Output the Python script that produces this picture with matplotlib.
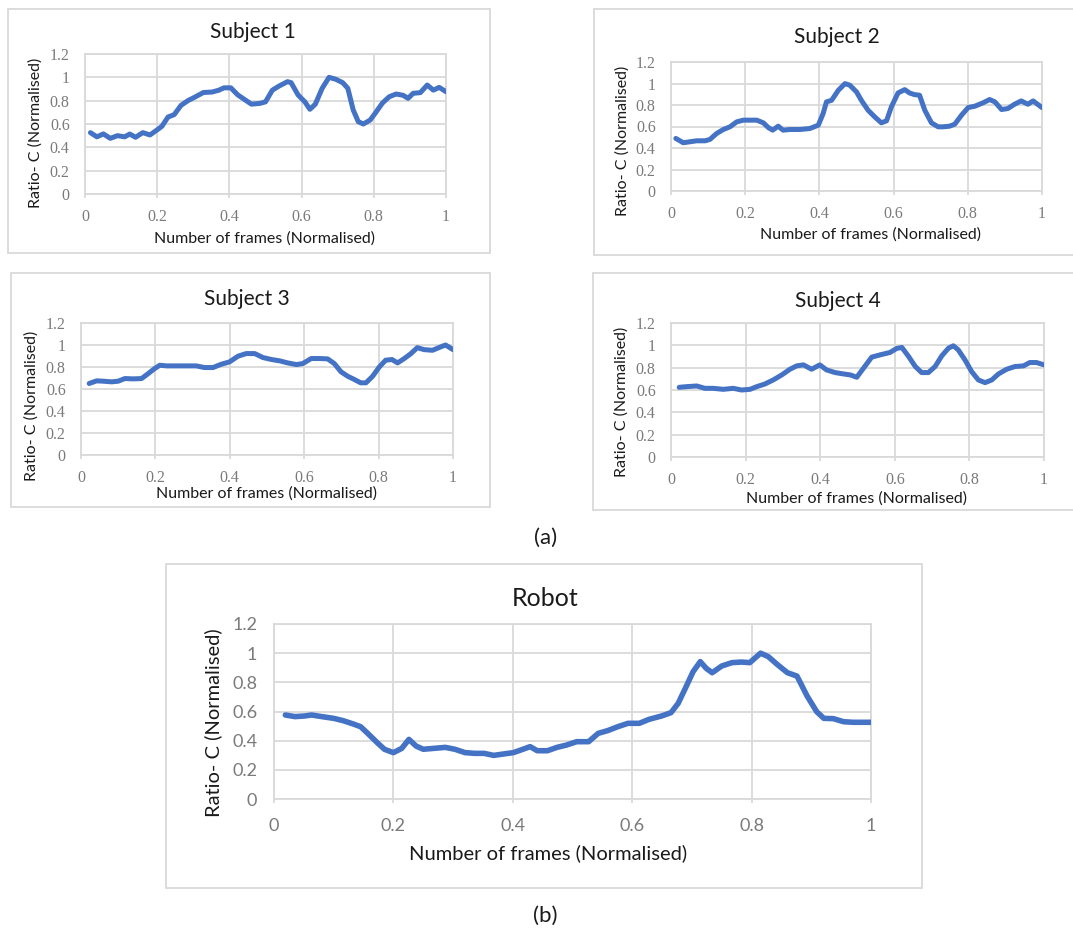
import matplotlib.pyplot as plt
from matplotlib.patches import Rectangle

# ---- data ----
s1_x = [0.015, 0.033, 0.051, 0.07, 0.09, 0.11, 0.124, 0.14, 0.16, 0.18, 0.2, 0.213, 0.23, 0.247,
        0.266, 0.285, 0.304, 0.328, 0.352, 0.371, 0.385, 0.404, 0.423, 0.442, 0.461, 0.485, 0.5,
        0.519, 0.538, 0.561, 0.571, 0.59, 0.609, 0.623, 0.638, 0.657, 0.676, 0.695, 0.714, 0.728,
        0.743, 0.757, 0.771, 0.79, 0.805, 0.824, 0.843, 0.862, 0.881, 0.895, 0.909, 0.929, 0.948,
        0.965, 0.981, 1.0]
s1_y = [0.526, 0.49, 0.515, 0.477, 0.50, 0.49, 0.514, 0.486, 0.526, 0.506, 0.55, 0.58, 0.66, 0.68,
        0.76, 0.80, 0.83, 0.87, 0.874, 0.89, 0.91, 0.91, 0.85, 0.81, 0.77, 0.777, 0.79,
        0.89, 0.926, 0.963, 0.954, 0.85, 0.79, 0.726, 0.77, 0.906, 1.0, 0.983, 0.954, 0.906,
        0.72, 0.62, 0.60, 0.634, 0.697, 0.78, 0.834, 0.857, 0.846, 0.82, 0.863, 0.869, 0.934,
        0.89, 0.914, 0.877]

s2_x = [0.013, 0.033, 0.051, 0.069, 0.092, 0.105, 0.123, 0.141, 0.159, 0.177, 0.195, 0.213, 0.231,
        0.249, 0.262, 0.274, 0.289, 0.302, 0.32, 0.347, 0.374, 0.397, 0.41, 0.419, 0.433, 0.451,
        0.469, 0.482, 0.5, 0.513, 0.531, 0.549, 0.567, 0.581, 0.594, 0.612, 0.63, 0.643, 0.656,
        0.67, 0.684, 0.702, 0.72, 0.733, 0.751, 0.765, 0.783, 0.801, 0.819, 0.841, 0.859, 0.873,
        0.891, 0.908, 0.926, 0.944, 0.962, 0.976, 1.0]
s2_y = [0.489, 0.449, 0.458, 0.467, 0.467, 0.48, 0.535, 0.572, 0.597, 0.643, 0.659, 0.659, 0.659,
        0.634, 0.591, 0.566, 0.603, 0.566, 0.572, 0.572, 0.581, 0.612, 0.72, 0.829, 0.844, 0.937,
        0.999, 0.984, 0.922, 0.844, 0.752, 0.69, 0.634, 0.653, 0.783, 0.912, 0.943, 0.912, 0.897,
        0.891, 0.752, 0.634, 0.597, 0.597, 0.603, 0.622, 0.705, 0.776, 0.789, 0.82, 0.851, 0.829,
        0.758, 0.767, 0.807, 0.838, 0.807, 0.838, 0.776]

s3_x = [0.022, 0.042, 0.06, 0.082, 0.1, 0.118, 0.14, 0.163, 0.181, 0.198, 0.212, 0.23, 0.256, 0.283,
        0.31, 0.332, 0.355, 0.377, 0.399, 0.422, 0.444, 0.467, 0.489, 0.512, 0.534, 0.556, 0.579,
        0.596, 0.619, 0.641, 0.663, 0.681, 0.699, 0.717, 0.735, 0.752, 0.766, 0.784, 0.802, 0.819,
        0.836, 0.851, 0.869, 0.887, 0.904, 0.922, 0.945, 0.962, 0.98, 1.0]
s3_y = [0.65, 0.674, 0.671, 0.665, 0.671, 0.695, 0.692, 0.695, 0.741, 0.786, 0.816, 0.81, 0.81, 0.81,
        0.81, 0.795, 0.795, 0.825, 0.846, 0.898, 0.922, 0.922, 0.886, 0.868, 0.856, 0.837, 0.822,
        0.831, 0.877, 0.877, 0.874, 0.831, 0.756, 0.716, 0.686, 0.656, 0.656, 0.716, 0.801, 0.862,
        0.868, 0.837, 0.877, 0.922, 0.976, 0.958, 0.952, 0.976, 1.0, 0.958]

s4_x = [0.022, 0.042, 0.069, 0.091, 0.113, 0.14, 0.167, 0.189, 0.212, 0.23, 0.252, 0.274, 0.297,
        0.319, 0.337, 0.355, 0.377, 0.399, 0.417, 0.44, 0.462, 0.481, 0.498, 0.516, 0.538, 0.561,
        0.587, 0.605, 0.619, 0.637, 0.655, 0.672, 0.69, 0.708, 0.726, 0.744, 0.757, 0.77, 0.788,
        0.806, 0.824, 0.842, 0.86, 0.878, 0.9, 0.922, 0.945, 0.962, 0.98, 1.0]
s4_y = [0.624, 0.63, 0.636, 0.615, 0.615, 0.606, 0.615, 0.6, 0.606, 0.63, 0.654, 0.69, 0.735,
        0.786, 0.816, 0.825, 0.786, 0.825, 0.78, 0.756, 0.744, 0.735, 0.714, 0.795, 0.894, 0.915,
        0.936, 0.972, 0.981, 0.9, 0.81, 0.756, 0.756, 0.81, 0.906, 0.975, 0.996, 0.96, 0.87,
        0.765, 0.69, 0.666, 0.69, 0.744, 0.786, 0.81, 0.816, 0.846, 0.846, 0.825]

robot_x = [0.019, 0.035, 0.051, 0.063, 0.08, 0.1, 0.116, 0.133, 0.145, 0.157, 0.173, 0.185, 0.2,
           0.214, 0.226, 0.238, 0.25, 0.267, 0.287, 0.303, 0.32, 0.336, 0.352, 0.368, 0.385, 0.401,
           0.417, 0.429, 0.441, 0.458, 0.474, 0.49, 0.507, 0.527, 0.543, 0.559, 0.576, 0.593, 0.612,
           0.628, 0.649, 0.665, 0.677, 0.689, 0.702, 0.714, 0.724, 0.734, 0.75, 0.767, 0.783, 0.797,
           0.815, 0.828, 0.844, 0.86, 0.876, 0.893, 0.909, 0.921, 0.937, 0.954, 0.97, 1.0]
robot_y = [0.576, 0.565, 0.569, 0.576, 0.565, 0.553, 0.537, 0.514, 0.496, 0.45, 0.386, 0.341, 0.318,
           0.347, 0.409, 0.363, 0.341, 0.347, 0.354, 0.341, 0.318, 0.313, 0.313, 0.299, 0.309, 0.318,
           0.341, 0.359, 0.331, 0.331, 0.354, 0.37, 0.393, 0.393, 0.45, 0.469, 0.496, 0.519, 0.519,
           0.546, 0.569, 0.592, 0.656, 0.759, 0.873, 0.942, 0.896, 0.866, 0.912, 0.935, 0.939, 0.935,
           1.0, 0.976, 0.919, 0.866, 0.843, 0.706, 0.599, 0.553, 0.551, 0.53, 0.526, 0.526]

x_ticks = [0, 0.2, 0.4, 0.6, 0.8, 1]
y_ticks = [0, 0.2, 0.4, 0.6, 0.8, 1, 1.2]
titles = ["Subject 1", "Subject 2", "Subject 3", "Subject 4", "Robot"]
xlabel = "Number of frames (Normalised)"
ylabel = "Ratio- C (Normalised)"

# ---- layout (pixels) ----
W, H = 1073, 934
fig = plt.figure(figsize=(W / 100, H / 100), dpi=100)
blue = '#4472C4'
grid = '#d9d9d9'
tickc = '#7a7a7a'
sans = 'Lato'


def fx(px):
    return px / W


def fy(py):
    return 1 - py / H


def draw_box(x0, y0, x1, y1):
    fig.patches.append(Rectangle((fx(x0), fy(y1)), (x1 - x0) / W, (y1 - y0) / H,
                                 transform=fig.transFigure, facecolor='white',
                                 edgecolor=grid, lw=1.3, zorder=-1))


def panel(xs, ys, boxr, plotr, t_xy, xl_xy, yl_xy, title, robot=False):
    draw_box(*boxr)
    x0, y0, x1, y1 = plotr
    ax = fig.add_axes([fx(x0), fy(y1), (x1 - x0) / W, (y1 - y0) / H])
    ax.plot(xs, ys, color=blue, lw=4.0 if robot else 3.6,
            solid_joinstyle='round', solid_capstyle='round', zorder=3)
    ax.set_xlim(0, 1)
    ax.set_ylim(0, 1.2)
    ax.set_xticks(x_ticks)
    ax.set_yticks(y_ticks)
    ax.set_xticklabels([f"{v:g}" for v in x_ticks])
    ax.set_yticklabels([f"{v:g}" for v in y_ticks])
    ax.grid(color=grid, lw=1.3)
    ax.set_axisbelow(True)
    for s in ax.spines.values():
        s.set_color(grid)
        s.set_linewidth(1.3)
    if robot:
        tf = dict(family=sans, size=13, color=tickc)
        ax.tick_params(axis='x', length=3, width=1.3, color=grid, pad=11)
        ax.tick_params(axis='y', length=0, pad=12)
    else:
        tf = dict(family='Liberation Serif', size=11.5, color=tickc)
        ax.tick_params(axis='x', length=3, width=1.3, color=grid, pad=8)
        ax.tick_params(axis='y', length=0, pad=11)
    for lab in ax.get_xticklabels() + ax.get_yticklabels():
        lab.set_fontfamily(tf['family'])
        lab.set_fontsize(tf['size'])
        lab.set_color(tf['color'])
    tsize = 18 if robot else 15
    lsize = 14.5 if robot else 11.5
    fig.text(fx(t_xy[0]), fy(t_xy[1]), title, ha='center', va='center',
             family=sans, size=tsize, color='#1a1a1a')
    fig.text(fx(xl_xy[0]), fy(xl_xy[1]), xlabel, ha='center', va='center',
             family=sans, size=lsize, color='#1a1a1a')
    fig.text(fx(yl_xy[0]), fy(yl_xy[1]), ylabel, ha='center', va='center',
             rotation=90, family=sans, size=lsize, color='#1a1a1a')
    return ax


panel(s1_x, s1_y, (8, 9, 490, 253), (85, 54, 446, 194), (253, 32), (265, 239), (36, 133), titles[0])
panel(s2_x, s2_y, (594, 9, 1080, 255), (671, 62, 1042, 191), (837, 37), (870, 235), (623, 141), titles[1])
panel(s3_x, s3_y, (11, 273, 490, 507), (81, 323, 453, 455), (247, 299), (267, 494), (32, 406), titles[2])
panel(s4_x, s4_y, (593, 273, 1080, 510), (671, 323, 1044, 457), (838, 301), (857, 499), (622, 402), titles[3])
panel(robot_x, robot_y, (166, 564, 922, 888), (274, 624, 871, 799), (545, 598), (548, 853), (213, 723),
      titles[4], robot=True)

fig.text(fx(546), fy(538), "(a)", ha='center', va='center', family=sans, size=16, color='#1a1a1a')
fig.text(fx(545), fy(916), "(b)", ha='center', va='center', family=sans, size=16, color='#1a1a1a')

fig.savefig('out.png', dpi=100, facecolor='white')
